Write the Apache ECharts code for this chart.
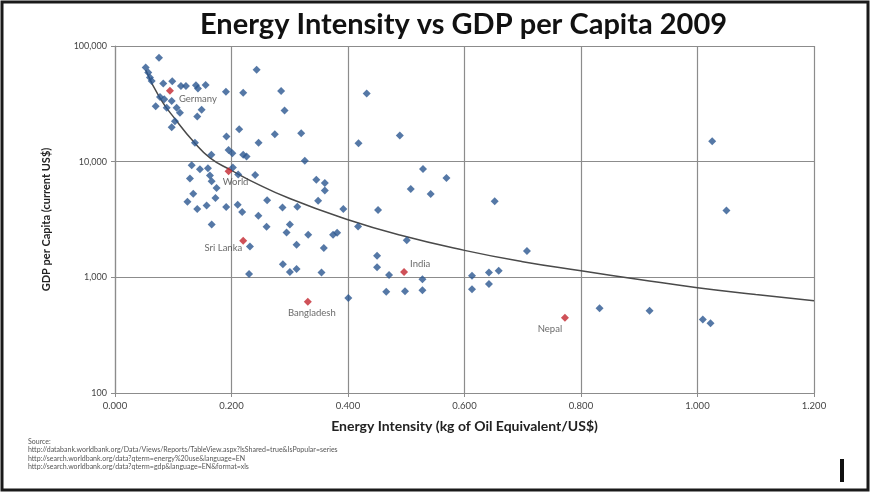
<!DOCTYPE html>
<html>
<head>
<meta charset="utf-8">
<script src="https://cdn.jsdelivr.net/npm/echarts@6/dist/echarts.min.js"></script>
<style>
  html, body { margin: 0; padding: 0; background: #fff; }
  #chart { width: 871px; height: 493px; }
</style>
</head>
<body>
<div id="chart"></div>
<script>
// Energy intensity (kg of oil equivalent per US$ of GDP) for each country, 2009
const intensity = [
  0.0527, 0.0571, 0.0600, 0.0630, 0.0755, 0.0698, 0.0772, 0.0828, 0.0846, 0.0887,
  0.0973, 0.0973, 0.0983, 0.1029, 0.1058, 0.1115, 0.1132, 0.1218, 0.1389, 0.1424,
  0.1556, 0.1487, 0.1412, 0.1372, 0.1655, 0.1904, 0.2201, 0.2431, 0.1913, 0.2132,
  0.2465, 0.1950, 0.2015, 0.2201, 0.2259, 0.2852, 0.2911, 0.2744, 0.3196, 0.3259,
  0.1316, 0.1458, 0.1595, 0.1630, 0.1659, 0.1744, 0.1286, 0.2024, 0.2115, 0.2407,
  0.1343, 0.1244, 0.1412, 0.1573, 0.1724, 0.1909, 0.2106, 0.2184, 0.2461, 0.2612,
  0.2876, 0.3130, 0.3456, 0.3602, 0.3602, 0.3487, 0.3919, 0.4516, 0.1660, 0.2602,
  0.3002, 0.2945, 0.3316, 0.3744, 0.3813, 0.4173, 0.2316, 0.3117, 0.3585, 0.2882,
  0.3002, 0.3117, 0.3545, 0.2302, 0.4005, 0.4321, 0.4180, 0.4889, 0.5288, 0.5690,
  0.5077, 0.5420, 0.6518, 0.5009, 0.4499, 0.4499, 0.4705, 0.5278, 0.4657, 0.4979,
  0.5278, 0.7072, 0.6129, 0.6420, 0.6587, 0.6420, 0.6129, 0.8319, 0.9177, 1.0091,
  1.0223, 1.0252, 1.0497
];

// GDP per capita (current US$), same order as intensity
const gdpPerCapita = [
  65100, 58900, 53300, 49800, 79200, 30200, 36200, 47300, 34600, 29300,
  33400, 19800, 49500, 22400, 29300, 26500, 45100, 45100, 45700, 43000,
  46000, 28100, 24600, 14600, 11500, 40300, 39500, 62300, 16500, 19100,
  14600, 12600, 11800, 11500, 11100, 40800, 27700, 17300, 17600, 10200,
  9290, 8590, 8760, 7580, 6760, 5930, 7140, 8890, 7730, 7650,
  5270, 4510, 3900, 4180, 4850, 4060, 4250, 3670, 3410, 4650,
  4020, 4080, 6990, 6550, 5620, 4600, 3890, 3820, 2860, 2740,
  2860, 2440, 2330, 2330, 2430, 2750, 1850, 1910, 1790, 1300,
  1110, 1180, 1100, 1070, 663, 38800, 14400, 16800, 8660, 7240,
  5810, 5260, 4540, 2090, 1540, 1220, 1045, 963, 750, 758,
  773, 1690, 1030, 1100, 1140, 877, 789, 540, 514, 433,
  400, 15000, 3790
];

// Highlighted countries
const highlightNames = ['Germany', 'World', 'Sri Lanka', 'Bangladesh', 'India', 'Nepal'];
const highlightIntensity = [0.0943, 0.1950, 0.2201, 0.3310, 0.4962, 0.7724];
const highlightGdp = [41100, 8250, 2070, 615, 1114, 447];

// Power trend line through the cloud
const trendX = [0.0527, 0.0772, 0.1058, 0.1343, 0.163, 0.2, 0.2316, 0.3, 0.3974, 0.4889, 0.6, 0.7, 0.8, 0.9, 1.0, 1.1, 1.2];
const trendY = [62000, 35500, 22500, 15000, 10800, 8400, 6900, 4800, 3180, 2320, 1710, 1365, 1140, 960, 814, 712, 628];

const sourceLines = [
  'Source:',
  'http://databank.worldbank.org/Data/Views/Reports/TableView.aspx?IsShared=true&IsPopular=series',
  'http://search.worldbank.org/data?qterm=energy%20use&language=EN',
  'http://search.worldbank.org/data?qterm=gdp&language=EN&format=xls'
];

const FONT = 'Lato, "Open Sans", sans-serif';

// label placement for each highlighted country: [position, offset]
const labelPlacement = {
  'Germany':    ['right',  [0, 8]],
  'World':      ['bottom', [7, -3]],
  'Sri Lanka':  ['left',   [8, 7]],
  'Bangladesh': ['bottom', [4, -3]],
  'India':      ['right',  [-3, -8]],
  'Nepal':      ['bottom', [-15, -3]]
};

const countryPoints = intensity.map((x, i) => [x, gdpPerCapita[i]]);
const highlightPoints = highlightNames.map((n, i) => ({
  name: n,
  value: [highlightIntensity[i], highlightGdp[i]],
  label: {
    show: true,
    formatter: n,
    position: labelPlacement[n][0],
    offset: labelPlacement[n][1],
    fontSize: 9.5,
    color: '#444',
    fontFamily: FONT
  }
}));
const trendPoints = trendX.map((x, i) => [x, trendY[i]]);

const chart = echarts.init(document.getElementById('chart'), null, { renderer: 'canvas' });

const graphics = [
  {
    type: 'rect',
    shape: { x: 2, y: 2, width: 866, height: 488 },
    style: { fill: 'none', stroke: '#1a1a1a', lineWidth: 3 },
    silent: true
  },
  {
    type: 'rect',
    shape: { x: 840, y: 459, width: 4, height: 23 },
    style: { fill: '#111' },
    silent: true
  }
];
sourceLines.forEach((t, i) => {
  graphics.push({
    type: 'text',
    left: 28,
    top: 438 + i * 8.5,
    style: { text: t, fontSize: 7, fill: '#555', fontFamily: FONT }
  });
});

chart.setOption({
  backgroundColor: '#fff',
  animation: false,
  title: {
    text: 'Energy Intensity vs GDP per Capita 2009',
    left: 195,
    top: 5,
    textStyle: { fontFamily: FONT, fontSize: 29, fontWeight: 'bold', color: '#111' }
  },
  grid: { left: 115, right: 57, top: 46, bottom: 100 },
  xAxis: {
    type: 'value',
    min: 0,
    max: 1.2,
    interval: 0.2,
    name: 'Energy Intensity (kg of Oil Equivalent/US$)',
    nameLocation: 'middle',
    nameGap: 26,
    nameTextStyle: { fontFamily: FONT, fontSize: 14, fontWeight: 'bold', color: '#222' },
    axisLine: { lineStyle: { color: '#8c8c8c', width: 1.2 } },
    axisTick: { show: true, length: 4, lineStyle: { color: '#8c8c8c' } },
    axisLabel: {
      formatter: v => v.toFixed(3),
      fontSize: 9.5,
      color: '#444',
      fontFamily: FONT,
      margin: 8
    },
    splitLine: { show: true, lineStyle: { color: '#8c8c8c', width: 1.2 } }
  },
  yAxis: {
    type: 'log',
    logBase: 10,
    min: 100,
    max: 100000,
    name: 'GDP per Capita (current US$)',
    nameLocation: 'middle',
    nameGap: 63,
    nameTextStyle: { fontFamily: FONT, fontSize: 11, fontWeight: 'bold', color: '#222' },
    axisLine: { show: true, lineStyle: { color: '#8c8c8c', width: 1.2 } },
    axisTick: { show: true, length: 4, lineStyle: { color: '#8c8c8c' } },
    axisLabel: {
      formatter: v => Math.round(v).toLocaleString('en-US'),
      fontSize: 9,
      color: '#444',
      fontFamily: FONT,
      margin: 8
    },
    splitLine: { show: true, lineStyle: { color: '#8c8c8c', width: 1.2 } }
  },
  series: [
    {
      name: 'Trend',
      type: 'line',
      data: trendPoints,
      smooth: true,
      showSymbol: false,
      lineStyle: { color: '#4a4a4a', width: 1.5 },
      z: 3,
      silent: true
    },
    {
      name: 'Countries',
      type: 'scatter',
      data: countryPoints,
      symbol: 'diamond',
      symbolSize: 8,
      itemStyle: { color: '#2a5690' },
      z: 4
    },
    {
      name: 'Highlighted',
      type: 'scatter',
      data: highlightPoints,
      symbol: 'diamond',
      symbolSize: 8,
      itemStyle: { color: '#c3262e' },
      z: 5
    }
  ],
  graphic: graphics
});
</script>
</body>
</html>
